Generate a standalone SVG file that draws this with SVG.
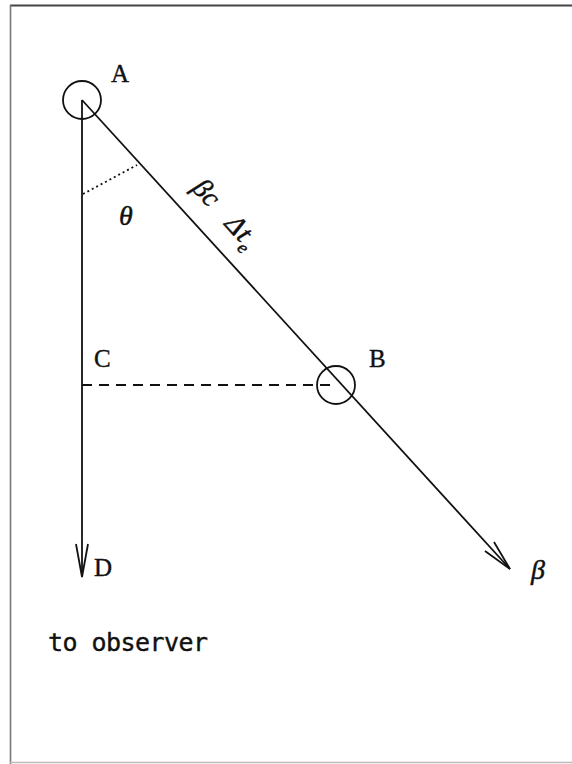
<svg xmlns="http://www.w3.org/2000/svg" width="572" height="764" viewBox="0 0 572 764">
<style>
.ln{stroke:#111;stroke-width:1.8;fill:none}
.lbl{font-family:"Liberation Serif",serif;font-size:25px;fill:#111;stroke:#111;stroke-width:0.4}
.it{font-family:"Liberation Serif",serif;font-style:italic;font-size:28px;fill:#111;stroke:#111;stroke-width:0.5}
.mono{font-family:"DejaVu Sans Mono",monospace;font-size:25px;fill:#111;stroke:#111;stroke-width:0.4}
</style>
<rect x="0" y="0" width="572" height="764" fill="#fff"/>
<g id="frame">
<line x1="10" y1="5.5" x2="572" y2="5.5" stroke="#444" stroke-width="2"/>
<line x1="10.5" y1="5" x2="10.5" y2="764" stroke="#777" stroke-width="1.6"/>
<line x1="10" y1="762.5" x2="572" y2="762.5" stroke="#bbb" stroke-width="1.5"/>
</g>
<g id="connectors">
<line class="ln" x1="82" y1="100" x2="82" y2="576"/>
<polyline class="ln" points="76,544 82,577 88,544"/>
<line class="ln" x1="82" y1="100" x2="510" y2="569"/>
<polyline class="ln" points="485,551 510,569 494,542"/>
<line class="ln" x1="82" y1="385" x2="336" y2="385" stroke-dasharray="10,7"/>
<line class="ln" x1="83" y1="194" x2="137" y2="165" stroke-width="1.2" stroke-dasharray="2,3"/>
</g>
<g id="nodeA">
<circle class="ln" cx="82" cy="100" r="19"/>
<text class="lbl" x="111" y="82">A</text>
</g>
<g id="nodeB">
<circle class="ln" cx="336" cy="385" r="19"/>
<text class="lbl" x="369" y="367">B</text>
</g>
<g id="nodeC">
<text class="lbl" x="94" y="367">C</text>
</g>
<g id="nodeD">
<text class="lbl" x="94" y="576">D</text>
</g>
<g id="labels">
<text class="it" x="119" y="225">θ</text>
<text class="it" transform="translate(191,189) rotate(47.6)" font-size="30">βc<tspan dx="22">Δ</tspan><tspan dx="1">t</tspan><tspan font-size="18" dx="1" dy="7">e</tspan></text>
<text class="it" x="531" y="579">β</text>
<text class="mono" x="48" y="651" textLength="160" lengthAdjust="spacing">to observer</text>
</g>
</svg>
